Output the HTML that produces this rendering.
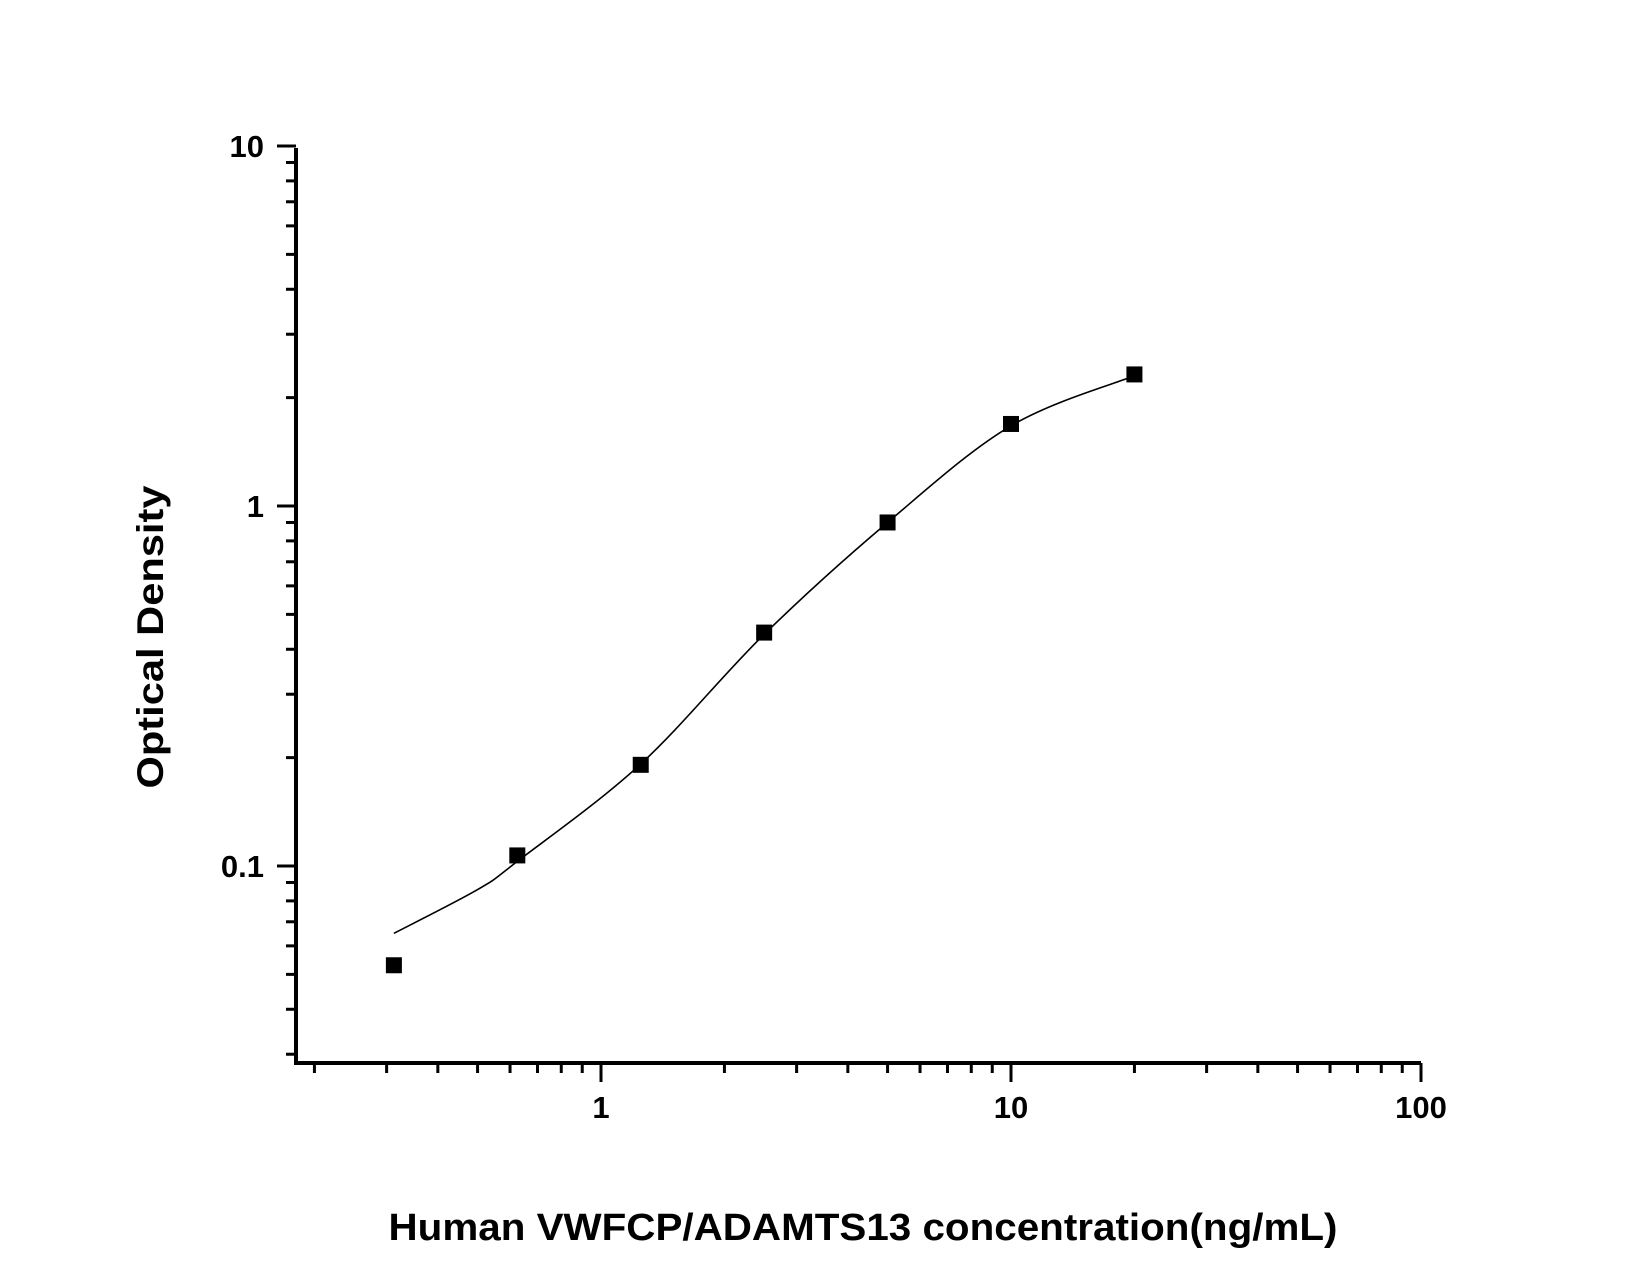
<!DOCTYPE html>
<html><head><meta charset="utf-8"><style>html,body{margin:0;padding:0;background:#fff}svg{display:block}</style></head>
<body>
<svg id="s" xmlns="http://www.w3.org/2000/svg" width="1650" height="1275" viewBox="0 0 1650 1275" font-family="Liberation Sans, Arial, sans-serif" font-weight="bold">
<rect width="1650" height="1275" fill="#fff"/>
<g id="g"></g>
<text x="0" y="0" transform="translate(163,637) rotate(-90)" text-anchor="middle" font-size="37" textLength="303" lengthAdjust="spacingAndGlyphs">Optical Density</text>
<text x="863" y="1240" text-anchor="middle" font-size="38" textLength="949" lengthAdjust="spacingAndGlyphs">Human VWFCP/ADAMTS13 concentration(ng/mL)</text>
</svg>
<script>
var g=document.getElementById('g'),h='';
function X(v){return 601+410*Math.log10(v);}
function Y(v){return 506-360*Math.log10(v);}
h+='<path d="M296,148 V1063 H1421" fill="none" stroke="#000" stroke-width="4"/>';
[[10,'10'],[1,'1'],[0.1,'0.1']].forEach(function(t){var y=Y(t[0]);h+='<line x1="277" x2="296" y1="'+y+'" y2="'+y+'" stroke="#000" stroke-width="3"/>';h+='<text x="264" y="'+(y+11)+'" text-anchor="end" font-size="31">'+t[1]+'</text>';});
[0.03,0.04,0.05,0.06,0.07,0.08,0.09,0.2,0.3,0.4,0.5,0.6,0.7,0.8,0.9,2,3,4,5,6,7,8,9].forEach(function(v){var y=Y(v);h+='<line x1="286" x2="296" y1="'+y+'" y2="'+y+'" stroke="#000" stroke-width="3"/>';});
[[1,'1'],[10,'10'],[100,'100']].forEach(function(t){var x=X(t[0]);h+='<line x1="'+x+'" x2="'+x+'" y1="1063" y2="1082" stroke="#000" stroke-width="3"/>';h+='<text x="'+x+'" y="1118" text-anchor="middle" font-size="31">'+t[1]+'</text>';});
[0.2,0.3,0.4,0.5,0.6,0.7,0.8,0.9,2,3,4,5,6,7,8,9,20,30,40,50,60,70,80,90].forEach(function(v){var x=X(v);h+='<line x1="'+x+'" x2="'+x+'" y1="1063" y2="1073" stroke="#000" stroke-width="3"/>';});
var cp=[[0.3125,0.065],[0.5,0.086],[0.625,0.103],[1.25,0.192],[2.5,0.44],[5,0.9],[10,1.67],[20,2.3]].map(function(p){return [X(p[0]),Y(p[1])];});
var d='M'+cp[0][0]+','+cp[0][1];
for(var i=0;i<cp.length-1;i++){var p0=cp[Math.max(0,i-1)],p1=cp[i],p2=cp[i+1],p3=cp[Math.min(cp.length-1,i+2)];
d+=' C'+(p1[0]+(p2[0]-p0[0])/6)+','+(p1[1]+(p2[1]-p0[1])/6)+' '+(p2[0]-(p3[0]-p1[0])/6)+','+(p2[1]-(p3[1]-p1[1])/6)+' '+p2[0]+','+p2[1];}
h+='<path d="'+d+'" fill="none" stroke="#000" stroke-width="1.6"/>';
[[0.3125,0.053],[0.625,0.107],[1.25,0.191],[2.5,0.445],[5,0.9],[10,1.69],[20,2.32]].forEach(function(p){h+='<rect x="'+(X(p[0])-8)+'" y="'+(Y(p[1])-8)+'" width="16" height="16" fill="#000"/>';});
g.innerHTML=h;
</script>
</body></html>
